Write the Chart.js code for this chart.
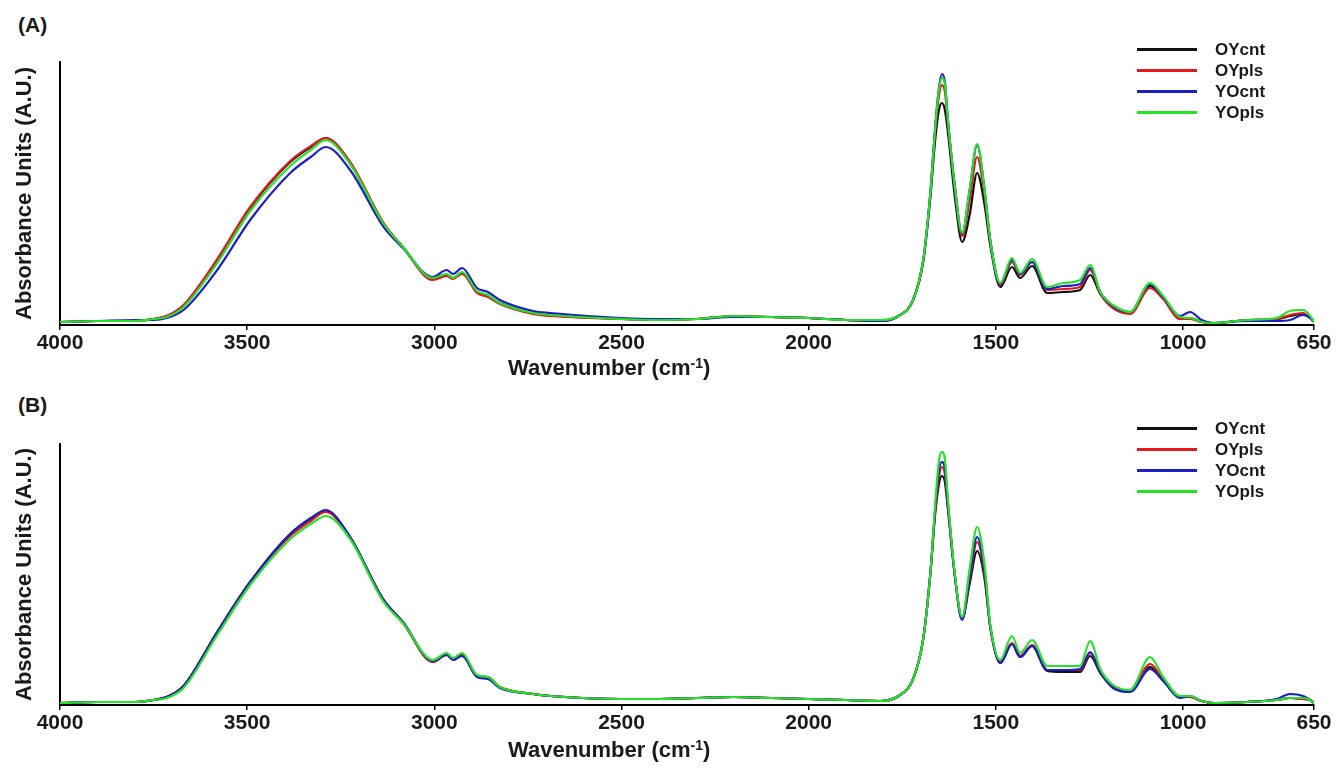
<!DOCTYPE html>
<html>
<head>
<meta charset="utf-8">
<script src="https://cdn.jsdelivr.net/npm/chart.js@4.4.0/dist/chart.umd.min.js"></script>
<style>
  body { margin: 0; width: 1341px; height: 777px; background: #fff; overflow: hidden;
         font-family: "Liberation Sans", Arial, sans-serif; color: #1a1a1a; }
  .panel { position: absolute; left: 0; width: 1341px; height: 390px; }
  .lbl { position: absolute; font-weight: bold; font-size: 21px; line-height: 24px; }
  .xt { position: absolute; font-weight: bold; font-size: 22px; line-height: 26px; white-space: nowrap; }
  .xt sup { font-size: 14px; vertical-align: 7px; line-height: 0; }
  .legend { position: absolute; left: 1137px; }
  .legend .row { position: relative; height: 21px; }
  .legend .sw { position: absolute; left: 0; top: 9px; width: 60px; height: 3px; }
  .legend .tx { position: absolute; left: 78px; top: 0; font-weight: bold; font-size: 17px; line-height: 21px; }
</style>
</head>
<body>

<div class="lbl" style="left:18px; top:13px;">(A)</div>
<div class="lbl" style="left:18px; top:393px;">(B)</div>

<div class="panel" style="top:0px;"><canvas id="chartA" width="1341" height="390"></canvas></div>
<div class="panel" style="top:380px;"><canvas id="chartB" width="1341" height="390"></canvas></div>

<div class="xt" style="left:508px; top:355px;">Wavenumber (cm<sup>-1</sup>)</div>
<div class="xt" style="left:508px; top:737px;">Wavenumber (cm<sup>-1</sup>)</div>

<div class="legend" id="legendA" style="top:39px;"></div>
<div class="legend" id="legendB" style="top:418px;"></div>

<script>
'use strict';

/* ── Data (arbitrary absorbance units) ── */
const seriesNames  = ['OYcnt', 'OYpls', 'YOcnt', 'YOpls'];
const seriesColors = ['#111111', '#e3191e', '#1c1fc4', '#27e02a'];
const xTicks = [4000, 3500, 3000, 2500, 2000, 1500, 1000, 650];

const wn = [4000,3900,3800,3750,3715, 3670,3580,3492,3385,3330, 3290,3225,3137,3084,3004,
            2967,2950,2926,2886,2857, 2825,2736,2690,2500,2400, 2300,2200,2100,2000,1900,
            1809,1760,1721,1694,1675, 1662,1652,1644,1636,1628, 1610,1590,1570,1550,1530,
            1515,1488,1457,1435,1403, 1363,1320,1275,1248,1221, 1187,1141,1088,1053,1008,
            981,950,919,829,750, 714,679,660,650];

// Panel (A)
const aOYcnt = [3,4,4,6,9, 19,64,117,163,178, 187,162,102,78,46, 50,47,52,33,29, 22,12,10,6,5, 6,9,8,7,5,
                4,9,25,63,127, 185,215,222,215,193, 130,83,110,152,120, 80,38,58,47,59, 32,33,35,50,31,
                17,12,39,27,7, 7,3,2,5,6, 9,11,7,3];
const aOYpls = [3,4,4,6,9, 20,66,118,164,179, 187,163,103,78,45, 49,46,51,32,28, 21,11,9,6,5, 6,9,8,7,5,
                4,9,25,65,131, 195,229,240,233,203, 140,89,125,168,130, 85,40,63,50,63, 35,36,38,55,32,
                17,11,37,26,6, 6,3,2,5,6, 10,12,7,3];
const aYOcnt = [3,4,5,5,7, 15,55,105,152,168, 178,155,99,77,48, 55,51,57,37,33, 25,14,12,7,6, 6,8,8,7,5,
                4,9,25,65,132, 198,237,251,243,205, 140,91,135,180,135, 85,41,65,51,63, 36,39,41,57,33,
                19,13,41,28,9, 13,5,2,4,4, 5,10,7,3];
const aYOpls = [3,4,4,6,8, 18,62,114,159,175, 185,161,102,78,47, 51,47,53,34,30, 22,12,10,6,5, 6,9,8,7,5,
                5,9,25,65,132, 197,235,247,240,205, 140,92,135,181,135, 85,42,67,52,66, 38,42,45,60,33,
                20,13,42,29,8, 7,3,2,5,7, 14,15,9,3];

// Panel (B)
const bOYcnt = [2,3,3,5,8, 19,73,123,171,186, 194,168,106,83,44, 51,46,51,29,28, 18,11,9,6,6, 7,8,7,6,5,
                4,9,26,66,131, 191,221,229,223,196, 131,86,121,154,126, 78,42,61,48,59, 34,33,33,49,32,
                18,14,38,25,8, 8,4,2,3,5, 7,6,5,2];
const bOYpls = [2,3,3,5,8, 19,73,123,169,184, 193,167,105,82,43, 50,46,50,29,27, 18,11,9,6,6, 7,8,7,6,5,
                4,9,26,66,131, 194,228,238,231,201, 131,86,126,163,131, 79,43,62,49,60, 35,35,35,52,33,
                18,14,41,26,8, 8,4,2,3,5, 7,6,5,2];
const bYOcnt = [2,3,3,5,8, 19,73,123,171,187, 195,168,106,83,44, 50,45,49,28,26, 17,11,9,6,6, 7,8,7,6,5,
                4,9,26,66,131, 196,234,243,236,201, 131,85,128,168,134, 79,42,61,48,59, 35,35,36,53,33,
                17,13,36,24,7, 9,4,2,3,6, 11,9,5,2];
const bYOpls = [2,3,3,5,7, 17,70,120,166,181, 189,166,104,82,45, 52,47,52,30,28, 18,11,9,6,6, 7,8,7,6,5,
                4,9,26,66,131, 201,244,253,246,206, 133,88,136,178,140, 81,45,69,52,65, 39,39,39,64,36,
                20,15,48,28,9, 9,4,2,3,5, 7,7,5,2];

/* ── Chart builder ───────────────────────────────────────── */
const FONT = '"Liberation Sans", Arial, sans-serif';

function makeChart(canvasId, seriesList, yMax, padTop) {
  const datasets = seriesList.map((vals, i) => ({
    label: seriesNames[i],
    data: wn.map((x, j) => ({ x, y: vals[j] })),
    borderColor: seriesColors[i],
    borderWidth: 2.2,
    pointRadius: 0,
    fill: false,
    cubicInterpolationMode: 'monotone',
    order: seriesList.length - i,   // green on top
  }));

  return new Chart(document.getElementById(canvasId), {
    type: 'line',
    data: { datasets },
    options: {
      responsive: false,
      animation: false,
      layout: { padding: { top: padTop, right: 27, bottom: 0, left: 0 } },
      plugins: { legend: { display: false }, tooltip: { enabled: false } },
      scales: {
        x: {
          type: 'linear',
          reverse: true,
          min: 650, max: 4000,
          afterBuildTicks: s => { s.ticks = xTicks.map(v => ({ value: v })); },
          afterFit: s => { s.height = 65; },
          ticks: {
            color: '#1a1a1a', autoSkip: false, maxRotation: 0, padding: 1,
            font: { family: FONT, size: 21, weight: 'bold' },
            callback: v => String(v),
          },
          grid:   { drawOnChartArea: false, drawTicks: true, tickLength: 5, color: '#000', lineWidth: 1.5 },
          border: { display: true, color: '#000', width: 2 },
        },
        y: {
          min: 0, max: yMax,
          afterFit: s => { s.width = 60; },
          ticks:  { display: false },
          grid:   { drawOnChartArea: false, drawTicks: false },
          border: { display: true, color: '#000', width: 2 },
          title: {
            display: true, text: 'Absorbance Units (A.U.)', color: '#1a1a1a',
            font: { family: FONT, size: 22, weight: 'bold' },
            padding: { top: 12, bottom: 0 },
          },
        },
      },
    },
  });
}

function makeLegend(id) {
  const el = document.getElementById(id);
  seriesNames.forEach((name, i) => {
    const row = document.createElement('div');
    row.className = 'row';
    row.innerHTML = `<div class="sw" style="background:${seriesColors[i]}"></div><div class="tx">${name}</div>`;
    el.appendChild(row);
  });
}

makeChart('chartA', [aOYcnt, aOYpls, aYOcnt, aYOpls], 263, 62);
makeChart('chartB', [bOYcnt, bOYpls, bYOcnt, bYOpls], 261, 64);
makeLegend('legendA');
makeLegend('legendB');
</script>
</body>
</html>
